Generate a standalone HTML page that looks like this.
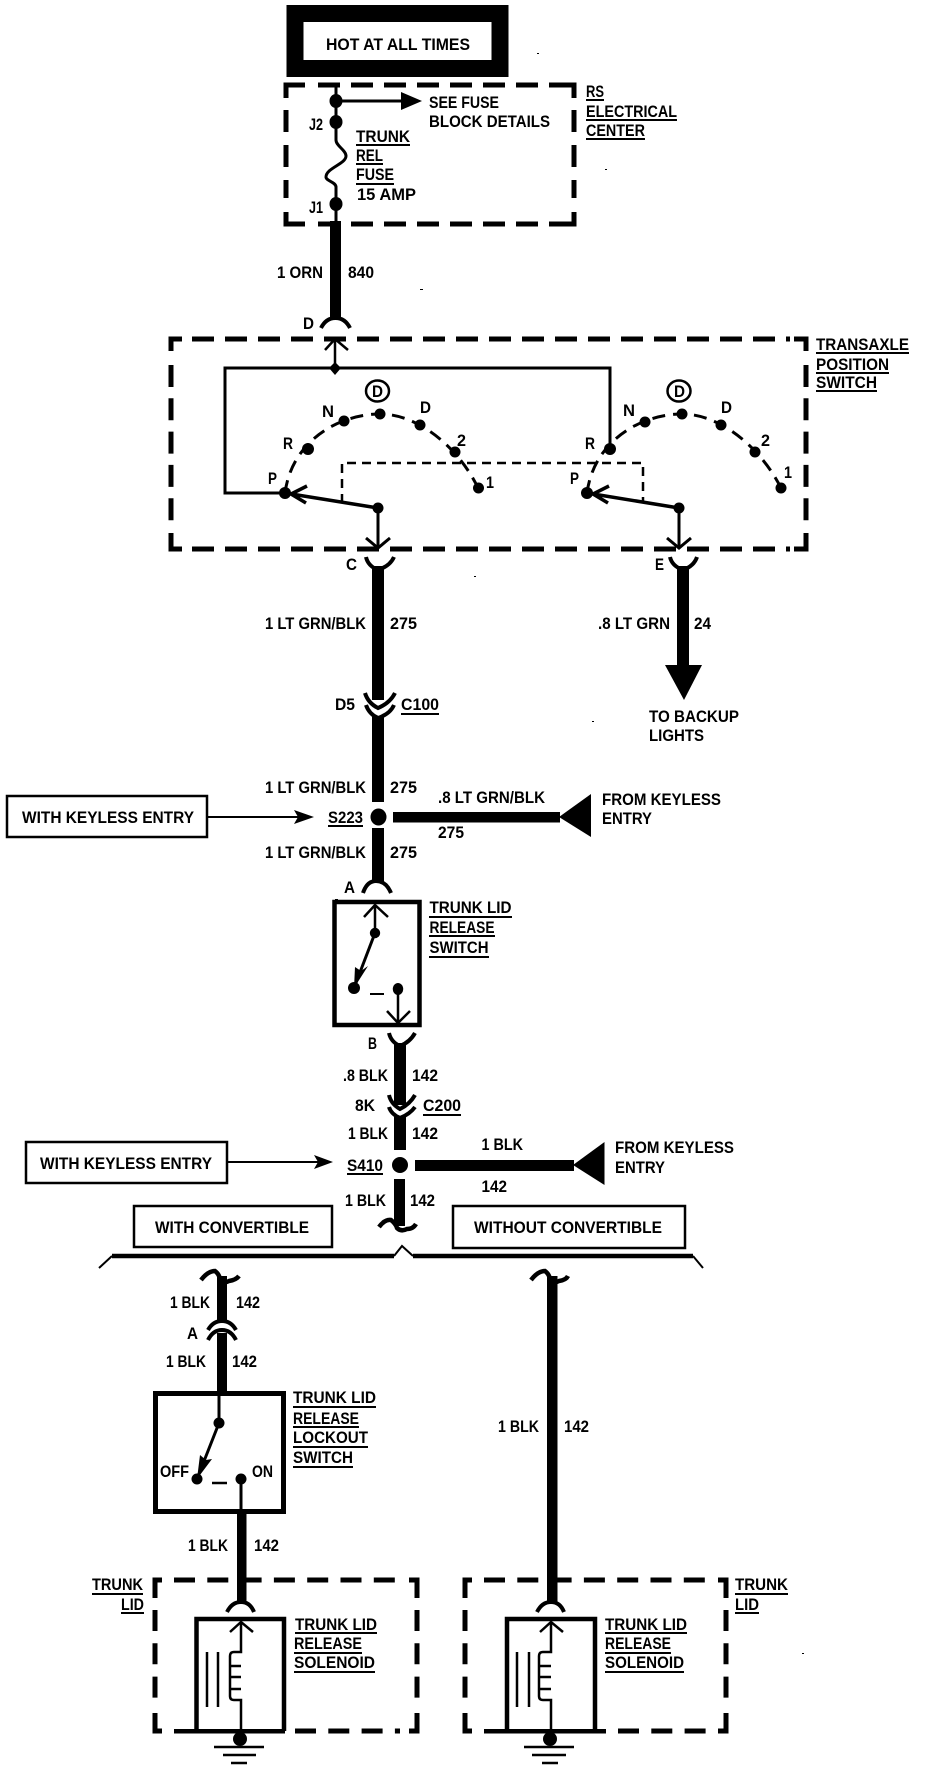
<!DOCTYPE html>
<html><head><meta charset="utf-8"><style>
html,body{margin:0;padding:0;background:#fff}
svg{display:block}
text{font-family:"Liberation Sans",sans-serif;font-weight:bold;font-size:16.5px;fill:#000}
.w{stroke:#000;fill:none}
</style></head><body>
<svg width="928" height="1772" viewBox="0 0 928 1772" xmlns="http://www.w3.org/2000/svg">
<rect width="928" height="1772" fill="#fff"/>
<!-- Specks -->
<path d="M537 53h2v1h-2zM605 169h2v1h-2zM420 289h3v1h-3zM474 576h2v1h-2zM592 721h2v1h-2zM335 899h3v1h-3zM802 1653h2v1h-2z"/>
<!-- Hot box -->
<rect x="295" y="13.5" width="205" height="55" fill="#fff" stroke="#000" stroke-width="17"/>
<text x="326" y="50" textLength="144" lengthAdjust="spacingAndGlyphs">HOT AT ALL TIMES</text>

<!-- RS dashed -->
<g class="w" stroke-width="5" fill="none" stroke="#000">
<path d="M305 85H286V98M551 85H574V98M305 224H286V212M551 224H574V212"/>
<path d="M318 85H551M318 224H551" stroke-dasharray="22 11"/>
<path d="M286 110V198M574 110V198" stroke-dasharray="22 13"/>
<!-- Transaxle dashed -->
<path d="M182 339H171V351M794 339H806V351M182 549H171V533M794 549H806V533"/>
<path d="M192 339H790M192 549H790" stroke-dasharray="22 11"/>
<path d="M171 365V530M806 365V530" stroke-dasharray="22 11.3"/>
<!-- Trunk lid dashed left -->
<path d="M162 1580H155V1598M417 1598V1580H409M162 1731H155V1713M417 1713V1731H409"/>
<path d="M174 1580H400M295 1731H400" stroke-dasharray="21 12.3"/>
<path d="M155 1610V1700M417 1610V1700" stroke-dasharray="21 12.3"/>
<!-- Trunk lid dashed right -->
<path d="M472 1580H465V1598M726 1598V1580H718M472 1731H465V1713M726 1713V1731H718"/>
<path d="M484 1580H708M618 1731H708" stroke-dasharray="21 12.3"/>
<path d="M465 1610V1700M726 1610V1700" stroke-dasharray="21 12.3"/>
</g>

<!-- RS internals -->
<g class="w" stroke-width="3" stroke="#000" fill="none">
<path d="M336 85V122V140C336 146 346 150 346 156C346 164 326 168 326 177C326 181 336 182 336 187V221"/>
<path d="M336 101H405"/>
</g>
<polygon points="401,92 422,101 401,110"/>
<ellipse cx="336" cy="101" rx="6.5" ry="7"/>
<ellipse cx="336" cy="122" rx="6.5" ry="7"/>
<ellipse cx="336" cy="204" rx="6.5" ry="7"/>
<rect x="330" y="221" width="11" height="96"/>
<path class="w" stroke-width="4" d="M321 328Q326 318 335.5 318Q345 318 350 328"/>

<text x="429" y="108" textLength="70" lengthAdjust="spacingAndGlyphs">SEE FUSE</text>
<text x="429" y="127" textLength="121" lengthAdjust="spacingAndGlyphs">BLOCK DETAILS</text>
<text x="309" y="130" textLength="14" lengthAdjust="spacingAndGlyphs">J2</text>
<text x="309" y="213" textLength="14" lengthAdjust="spacingAndGlyphs">J1</text>
<text x="356" y="142" textLength="54" lengthAdjust="spacingAndGlyphs">TRUNK</text>
<text x="356" y="161" textLength="27" lengthAdjust="spacingAndGlyphs">REL</text>
<text x="356" y="180" textLength="38" lengthAdjust="spacingAndGlyphs">FUSE</text>
<text x="357" y="200" textLength="59" lengthAdjust="spacingAndGlyphs">15 AMP</text>
<text x="586" y="97" textLength="18" lengthAdjust="spacingAndGlyphs">RS</text>
<text x="586" y="117" textLength="91" lengthAdjust="spacingAndGlyphs">ELECTRICAL</text>
<text x="586" y="136" textLength="59" lengthAdjust="spacingAndGlyphs">CENTER</text>
<text x="277" y="278" textLength="46" lengthAdjust="spacingAndGlyphs">1 ORN</text>
<text x="348" y="278" textLength="26" lengthAdjust="spacingAndGlyphs">840</text>
<text x="303" y="329" textLength="11" lengthAdjust="spacingAndGlyphs">D</text>
<path class="w" stroke-width="2" d="M356 145H410M356 164H383M356 184H394M586 100H604M586 120H677M586 139H645"/>

<!-- Transaxle -->
<g class="w" stroke="#000" fill="none">
<path stroke-width="3" d="M285 493H225V368H610V449"/>
<path stroke-width="2.5" d="M335 339V368M325 350L335 339L348 350"/>
<path stroke-width="3.5" d="M378 508L285 493M307 486L291 494L306 503"/>
<path stroke-width="3" d="M378 508V548M366 538L378 548L390 538"/>
<path stroke-width="3.5" d="M679 508L587 493M609 486L593 494L608 503"/>
<path stroke-width="3" d="M679 508V548M667 538L679 548L691 538"/>
<path stroke-width="3" stroke-dasharray="13 8" d="M285 493C292 440 340 414 380 414C420 414 460 450 478 488"/>
<path stroke-width="3" stroke-dasharray="13 8" d="M587 493C594 440 642 414 682 414C722 414 762 450 781 488"/>
<path stroke-width="2.5" stroke-dasharray="9 6" d="M342 503V463H643V503"/>
<ellipse cx="377.5" cy="391" rx="11.5" ry="10.5" stroke-width="2.5"/>
<ellipse cx="679" cy="391" rx="11.5" ry="10.5" stroke-width="2.5"/>
</g>
<polygon points="335,362 341,368 335,375 329,368"/>
<g>
<circle cx="285" cy="493" r="6"/><circle cx="308" cy="449" r="6"/><circle cx="344" cy="421" r="5.5"/><circle cx="380" cy="414" r="5.5"/><circle cx="420" cy="425" r="5.5"/><circle cx="455" cy="452" r="5.5"/><circle cx="478.5" cy="488" r="5.5"/>
<circle cx="587" cy="493" r="6"/><circle cx="610" cy="449" r="6"/><circle cx="645" cy="422" r="5.5"/><circle cx="682" cy="414" r="5.5"/><circle cx="721" cy="425" r="5.5"/><circle cx="755" cy="452" r="5.5"/><circle cx="781" cy="488" r="5.5"/>
<circle cx="378" cy="508" r="5.5"/><circle cx="679" cy="508" r="5.5"/>
</g>
<text x="372" y="397" textLength="11" lengthAdjust="spacingAndGlyphs">D</text>
<text x="674" y="397" textLength="11" lengthAdjust="spacingAndGlyphs">D</text>
<text x="322" y="417" textLength="12" lengthAdjust="spacingAndGlyphs">N</text>
<text x="420" y="413" textLength="11" lengthAdjust="spacingAndGlyphs">D</text>
<text x="283" y="449" textLength="10" lengthAdjust="spacingAndGlyphs">R</text>
<text x="457" y="446" textLength="9" lengthAdjust="spacingAndGlyphs">2</text>
<text x="268" y="484" textLength="9" lengthAdjust="spacingAndGlyphs">P</text>
<text x="486" y="488" textLength="8" lengthAdjust="spacingAndGlyphs">1</text>
<text x="623" y="416" textLength="12" lengthAdjust="spacingAndGlyphs">N</text>
<text x="721" y="413" textLength="11" lengthAdjust="spacingAndGlyphs">D</text>
<text x="585" y="449" textLength="10" lengthAdjust="spacingAndGlyphs">R</text>
<text x="761" y="446" textLength="9" lengthAdjust="spacingAndGlyphs">2</text>
<text x="570" y="484" textLength="9" lengthAdjust="spacingAndGlyphs">P</text>
<text x="784" y="478" textLength="8" lengthAdjust="spacingAndGlyphs">1</text>
<text x="816" y="350" textLength="93" lengthAdjust="spacingAndGlyphs">TRANSAXLE</text>
<text x="816" y="370" textLength="73" lengthAdjust="spacingAndGlyphs">POSITION</text>
<text x="816" y="388" textLength="61" lengthAdjust="spacingAndGlyphs">SWITCH</text>
<path class="w" stroke-width="2" d="M816 353H909M816 373H889M816 391H877"/>

<!-- C wire -->
<path class="w" stroke-width="4" d="M366 557Q368 566 378 570Q390 566 394 557"/>
<rect x="372" y="566" width="12" height="134"/>
<text x="346" y="570" textLength="11" lengthAdjust="spacingAndGlyphs">C</text>
<path class="w" stroke-width="4" d="M365 693Q368 703 378 708Q390 703 395 693"/>
<path class="w" stroke-width="4" d="M366 705Q369 714 378 718Q390 714 394 705"/>
<rect x="372" y="716" width="12" height="86"/>
<text x="265" y="629" textLength="101" lengthAdjust="spacingAndGlyphs">1 LT GRN/BLK</text>
<text x="390" y="629" textLength="27" lengthAdjust="spacingAndGlyphs">275</text>
<text x="335" y="710" textLength="20" lengthAdjust="spacingAndGlyphs">D5</text>
<text x="401" y="710" textLength="38" lengthAdjust="spacingAndGlyphs">C100</text>
<path class="w" stroke-width="2" d="M401 714H439"/>
<text x="265" y="793" textLength="101" lengthAdjust="spacingAndGlyphs">1 LT GRN/BLK</text>
<text x="390" y="793" textLength="27" lengthAdjust="spacingAndGlyphs">275</text>
<text x="265" y="858" textLength="101" lengthAdjust="spacingAndGlyphs">1 LT GRN/BLK</text>
<text x="390" y="858" textLength="27" lengthAdjust="spacingAndGlyphs">275</text>
<ellipse cx="378.5" cy="817" rx="8" ry="8.5"/>
<rect x="372" y="828" width="12" height="54"/>
<path class="w" stroke-width="4" d="M363 893Q367 881 376 881Q386 881 391 893"/>
<text x="344" y="893" textLength="11" lengthAdjust="spacingAndGlyphs">A</text>

<!-- E wire -->
<path class="w" stroke-width="4" d="M670 557Q672 566 683 570Q694 566 697 557"/>
<rect x="677" y="566" width="12" height="100"/>
<polygon points="665,665 702,665 684,700"/>
<text x="655" y="570" textLength="9" lengthAdjust="spacingAndGlyphs">E</text>
<text x="598" y="629" textLength="72" lengthAdjust="spacingAndGlyphs">.8 LT GRN</text>
<text x="694" y="629" textLength="17" lengthAdjust="spacingAndGlyphs">24</text>
<text x="649" y="722" textLength="90" lengthAdjust="spacingAndGlyphs">TO BACKUP</text>
<text x="649" y="741" textLength="55" lengthAdjust="spacingAndGlyphs">LIGHTS</text>

<!-- S223 branch -->
<rect x="393" y="812" width="167" height="10.5"/>
<polygon points="559,817 591,794 591,837"/>
<text x="438" y="803" textLength="107" lengthAdjust="spacingAndGlyphs">.8 LT GRN/BLK</text>
<text x="438" y="838" textLength="26" lengthAdjust="spacingAndGlyphs">275</text>
<text x="602" y="805" textLength="119" lengthAdjust="spacingAndGlyphs">FROM KEYLESS</text>
<text x="602" y="824" textLength="50" lengthAdjust="spacingAndGlyphs">ENTRY</text>
<rect x="7" y="796" width="200" height="41" fill="#fff" stroke="#000" stroke-width="2.5"/>
<text x="22" y="823" textLength="172" lengthAdjust="spacingAndGlyphs">WITH KEYLESS ENTRY</text>
<path class="w" stroke-width="2" d="M207 817H300"/>
<polygon points="294,810 314,817 294,824 298,817"/>
<text x="328" y="823" textLength="35" lengthAdjust="spacingAndGlyphs">S223</text>
<path class="w" stroke-width="2" d="M328 826H363"/>

<!-- Trunk lid release switch -->
<rect x="334.5" y="902" width="85" height="123" fill="none" stroke="#000" stroke-width="4.5"/>
<g class="w" stroke="#000" fill="none">
<path stroke-width="2.5" d="M375 905V933M364 917L375 905L388 917"/>
<path stroke-width="3" d="M375 933L354 988"/>
<path stroke-width="2.5" d="M398 989V1023M387 1011L398 1023L410 1011"/>
<path stroke-width="2" d="M370 994H384"/>
</g>
<polygon points="354,988 355,967 361,971 368,966"/>
<circle cx="375" cy="933" r="5.2"/><circle cx="354" cy="988" r="6"/><ellipse cx="398" cy="989" rx="5.2" ry="6"/>
<text x="429.5" y="913" textLength="82" lengthAdjust="spacingAndGlyphs">TRUNK LID</text>
<text x="429.5" y="933" textLength="65" lengthAdjust="spacingAndGlyphs">RELEASE</text>
<text x="429.5" y="953" textLength="59" lengthAdjust="spacingAndGlyphs">SWITCH</text>
<path class="w" stroke-width="2" d="M429 917H512M429 936H495M429 957H489"/>

<!-- B wire -->
<path class="w" stroke-width="4" d="M389 1033Q391 1042 400 1046Q410 1042 415 1033"/>
<rect x="394" y="1043" width="12" height="62"/>
<text x="368" y="1049" textLength="9" lengthAdjust="spacingAndGlyphs">B</text>
<text x="343" y="1081" textLength="45" lengthAdjust="spacingAndGlyphs">.8 BLK</text>
<text x="412" y="1081" textLength="26" lengthAdjust="spacingAndGlyphs">142</text>
<path class="w" stroke-width="4" d="M389 1095Q391 1104 400 1109Q410 1104 415 1095"/>
<path class="w" stroke-width="4" d="M389 1107Q391 1114 400 1118Q410 1114 415 1107"/>
<rect x="394" y="1116" width="12" height="34"/>
<text x="355" y="1111" textLength="20" lengthAdjust="spacingAndGlyphs">8K</text>
<text x="423" y="1111" textLength="38" lengthAdjust="spacingAndGlyphs">C200</text>
<path class="w" stroke-width="2" d="M423 1115H461"/>
<text x="348" y="1139" textLength="40" lengthAdjust="spacingAndGlyphs">1 BLK</text>
<text x="412" y="1139" textLength="26" lengthAdjust="spacingAndGlyphs">142</text>
<ellipse cx="400" cy="1165" rx="8" ry="8"/>
<rect x="394" y="1179" width="11" height="47"/>
<path class="w" stroke-width="4.5" d="M379 1227Q385 1219 391 1220Q396 1224 397 1228Q401 1232 407 1229Q413 1229 416 1224"/>
<text x="345" y="1206" textLength="41" lengthAdjust="spacingAndGlyphs">1 BLK</text>
<text x="410" y="1206" textLength="25" lengthAdjust="spacingAndGlyphs">142</text>

<!-- S410 branch -->
<rect x="415" y="1160" width="159" height="11"/>
<polygon points="573,1165 604.5,1142 604.5,1185"/>
<text x="481.5" y="1150" textLength="41.5" lengthAdjust="spacingAndGlyphs">1 BLK</text>
<text x="481.5" y="1192" textLength="25.5" lengthAdjust="spacingAndGlyphs">142</text>
<text x="615" y="1153" textLength="119" lengthAdjust="spacingAndGlyphs">FROM KEYLESS</text>
<text x="615" y="1173" textLength="50" lengthAdjust="spacingAndGlyphs">ENTRY</text>
<rect x="26" y="1142" width="201" height="41" fill="#fff" stroke="#000" stroke-width="2.5"/>
<text x="40" y="1169" textLength="172" lengthAdjust="spacingAndGlyphs">WITH KEYLESS ENTRY</text>
<path class="w" stroke-width="2" d="M227 1162H320"/>
<polygon points="314,1155 333,1162 314,1169 318,1162"/>
<text x="347" y="1171" textLength="36" lengthAdjust="spacingAndGlyphs">S410</text>
<path class="w" stroke-width="2" d="M347 1174H383"/>

<!-- Convertible boxes -->
<rect x="134" y="1206" width="198" height="41" fill="#fff" stroke="#000" stroke-width="2.5"/>
<text x="155" y="1233" textLength="154" lengthAdjust="spacingAndGlyphs">WITH CONVERTIBLE</text>
<rect x="453" y="1206" width="232" height="42" fill="#fff" stroke="#000" stroke-width="2.5"/>
<text x="474" y="1233" textLength="188" lengthAdjust="spacingAndGlyphs">WITHOUT CONVERTIBLE</text>
<path class="w" stroke-width="4.5" d="M112 1256H394M413 1256H693"/>
<path class="w" stroke-width="2" d="M99 1268L112 1256M394 1256L402 1246L413 1256M693 1256L703 1268"/>

<!-- Left branch -->
<path class="w" stroke-width="4.5" d="M201 1280Q208 1271 215 1271Q219 1274 220 1279Q224 1284 229 1281Q236 1280 239 1276"/>
<rect x="217" y="1276" width="10" height="45"/>
<path class="w" stroke-width="4" d="M208 1330Q213 1321 222 1321Q231 1321 236 1330"/>
<path class="w" stroke-width="4" d="M208 1340Q213 1330 222 1330Q231 1330 236 1340"/>
<rect x="217" y="1333" width="10" height="60"/>
<text x="170" y="1308" textLength="40" lengthAdjust="spacingAndGlyphs">1 BLK</text>
<text x="236" y="1308" textLength="24" lengthAdjust="spacingAndGlyphs">142</text>
<text x="187" y="1339" textLength="11" lengthAdjust="spacingAndGlyphs">A</text>
<text x="166" y="1367" textLength="40" lengthAdjust="spacingAndGlyphs">1 BLK</text>
<text x="232" y="1367" textLength="25" lengthAdjust="spacingAndGlyphs">142</text>
<rect x="155.5" y="1393.5" width="128" height="118" fill="none" stroke="#000" stroke-width="5"/>
<g class="w" stroke="#000" fill="none">
<path stroke-width="3" d="M219 1393V1423L197 1479"/>
<path stroke-width="3" d="M241 1479V1514"/>
<path stroke-width="2.5" d="M212 1483H227"/>
</g>
<polygon points="197,1479 200,1455 206,1460 212,1459"/>
<circle cx="219" cy="1423" r="5.5"/><circle cx="197" cy="1479" r="5.5"/><circle cx="241" cy="1479" r="5.5"/>
<text x="160" y="1477" textLength="29" lengthAdjust="spacingAndGlyphs">OFF</text>
<text x="252" y="1477" textLength="21" lengthAdjust="spacingAndGlyphs">ON</text>
<text x="293" y="1403" textLength="83" lengthAdjust="spacingAndGlyphs">TRUNK LID</text>
<text x="293" y="1424" textLength="66" lengthAdjust="spacingAndGlyphs">RELEASE</text>
<text x="293" y="1443" textLength="75" lengthAdjust="spacingAndGlyphs">LOCKOUT</text>
<text x="293" y="1463" textLength="60" lengthAdjust="spacingAndGlyphs">SWITCH</text>
<path class="w" stroke-width="2" d="M293 1407H376M293 1427H359M293 1447H368M293 1467H353"/>
<rect x="237" y="1514" width="9.5" height="90"/>
<text x="188" y="1551" textLength="40" lengthAdjust="spacingAndGlyphs">1 BLK</text>
<text x="254" y="1551" textLength="25" lengthAdjust="spacingAndGlyphs">142</text>
<path class="w" stroke-width="4" d="M227 1612Q232 1602 241 1602Q250 1602 254 1612"/>
<text x="92" y="1590" textLength="51" lengthAdjust="spacingAndGlyphs">TRUNK</text>
<text x="121" y="1610" textLength="23" lengthAdjust="spacingAndGlyphs">LID</text>
<path class="w" stroke-width="2" d="M92 1594H143M121 1613H144"/>

<!-- Left solenoid -->
<rect x="174" y="1729" width="111" height="4.5"/>
<path class="w" stroke-width="4.5" d="M196.5 1731V1619H284V1731"/>
<g class="w" stroke="#000" fill="none">
<path stroke-width="2.5" d="M241 1622V1652H234Q230 1652 230 1656V1696Q230 1700 234 1700H241V1731M231 1666H241M231 1677H241M231 1689H241"/>
<path stroke-width="2.5" d="M230 1632L241 1622L253 1632"/>
<path stroke-width="2.5" d="M207 1652V1707M218 1652V1707"/>
<path stroke-width="2.5" d="M214 1747H264M223 1755H256M231 1763H247"/>
</g>
<circle cx="240" cy="1739" r="7"/>
<text x="295" y="1630" textLength="82" lengthAdjust="spacingAndGlyphs">TRUNK LID</text>
<text x="294" y="1649" textLength="68" lengthAdjust="spacingAndGlyphs">RELEASE</text>
<text x="294" y="1668" textLength="81" lengthAdjust="spacingAndGlyphs">SOLENOID</text>
<path class="w" stroke-width="2" d="M295 1633H377M294 1653H362M294 1672H375"/>

<!-- Right branch -->
<path class="w" stroke-width="4.5" d="M531 1280Q538 1271 545 1271Q549 1274 550 1279Q554 1284 559 1281Q566 1280 568 1276"/>
<rect x="547" y="1276" width="10.5" height="328"/>
<text x="498" y="1432" textLength="41" lengthAdjust="spacingAndGlyphs">1 BLK</text>
<text x="564" y="1432" textLength="25" lengthAdjust="spacingAndGlyphs">142</text>
<path class="w" stroke-width="4" d="M537 1612Q542 1602 551 1602Q560 1602 564 1612"/>
<text x="735" y="1590" textLength="53" lengthAdjust="spacingAndGlyphs">TRUNK</text>
<text x="735" y="1610" textLength="24" lengthAdjust="spacingAndGlyphs">LID</text>
<path class="w" stroke-width="2" d="M735 1594H788M735 1613H759"/>

<!-- Right solenoid -->
<rect x="484" y="1729" width="122" height="4.5"/>
<path class="w" stroke-width="4.5" d="M507 1731V1619H595V1731"/>
<g class="w" stroke="#000" fill="none">
<path stroke-width="2.5" d="M551 1622V1652H543Q539 1652 539 1656V1696Q539 1700 543 1700H551V1731M540 1666H551M540 1677H551M540 1689H551"/>
<path stroke-width="2.5" d="M540 1632L551 1622L563 1632"/>
<path stroke-width="2.5" d="M517 1652V1707M529 1652V1707"/>
<path stroke-width="2.5" d="M524 1747H574M532 1755H566M542 1763H558"/>
</g>
<circle cx="550" cy="1739" r="7"/>
<text x="605" y="1630" textLength="82" lengthAdjust="spacingAndGlyphs">TRUNK LID</text>
<text x="605" y="1649" textLength="66" lengthAdjust="spacingAndGlyphs">RELEASE</text>
<text x="605" y="1668" textLength="79" lengthAdjust="spacingAndGlyphs">SOLENOID</text>
<path class="w" stroke-width="2" d="M605 1633H687M605 1653H671M605 1672H684"/>
</svg>
</body></html>
